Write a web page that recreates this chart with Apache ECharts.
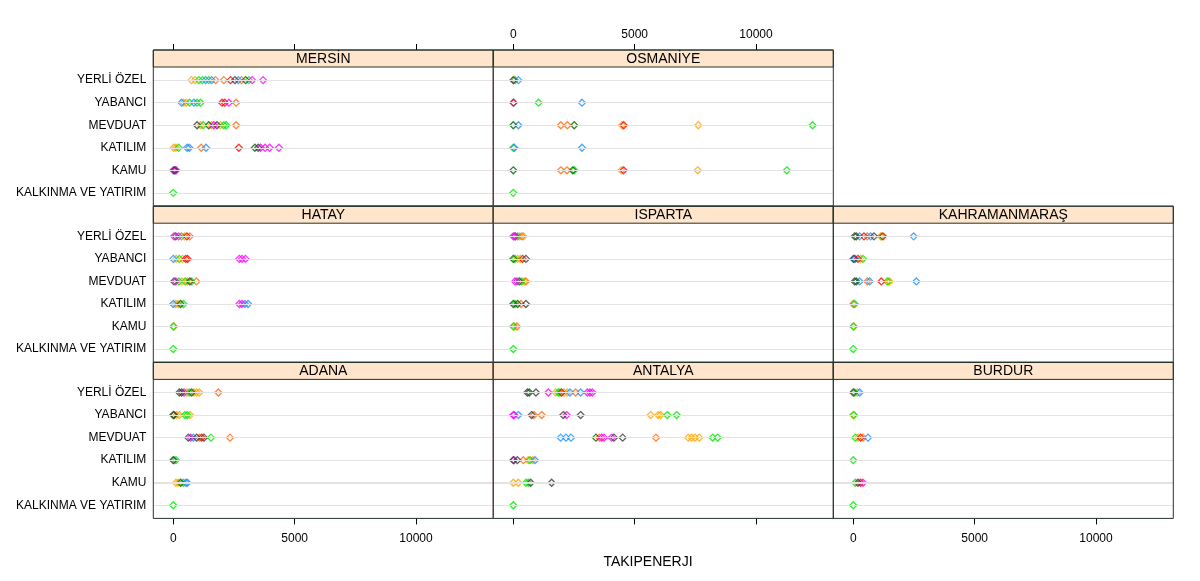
<!DOCTYPE html>
<html><head><meta charset="utf-8">
<script src="https://cdn.jsdelivr.net/npm/echarts@6/dist/echarts.min.js"></script>
<style>html,body{margin:0;padding:0;background:#fff}#c{width:1200px;height:581px}</style>
</head><body><div id="c"></div>
<script>
// categories (bottom to top as in lattice dotplot)
const CATS = ['KALKINMA VE YATIRIM','KAMU','KATILIM','MEVDUAT','YABANCI','YERLİ ÖZEL'];
const X_TICKS = [0, 5000, 10000];
const X_TITLE = 'TAKIPENERJI';
const COLORS = {O:'#FFA500', T:'#FF6A10', G:'#00E600', B:'#1E90FF', R:'#FF0000', D:'#006400', M:'#FF00FF', K:'#3A3A3A'};

// values: [category, [[value, colour-group], ...]]
const MERSIN = [
 ['YERLİ ÖZEL', [[750,'O'],[900,'O'],[1050,'G'],[1200,'G'],[1330,'B'],[1460,'G'],[1580,'B'],[1740,'T'],[2080,'T'],[2360,'R'],[2540,'K'],[2680,'B'],[2810,'T'],[2980,'D'],[3110,'G'],[3250,'M'],[3700,'M']]],
 ['YABANCI', [[340,'B'],[430,'O'],[530,'O'],[670,'G'],[850,'B'],[980,'G'],[1120,'G'],[2010,'R'],[2120,'R'],[2290,'M'],[2590,'T']]],
 ['MEVDUAT', [[980,'K'],[1120,'O'],[1230,'G'],[1460,'D'],[1570,'O'],[1670,'M'],[1800,'K'],[1940,'O'],[2080,'G'],[2180,'G'],[2590,'T']]],
 ['KATILIM', [[20,'O'],[110,'O'],[220,'G'],[570,'B'],[660,'B'],[1150,'T'],[1350,'B'],[2700,'R'],[3360,'D'],[3500,'K'],[3600,'M'],[3780,'M'],[3970,'M'],[4350,'M']]],
 ['KAMU', [[0,'M'],[40,'K'],[80,'D'],[120,'M']]],
 ['KALKINMA VE YATIRIM', [[0,'G']]]
];
const OSMANIYE = [
 ['YERLİ ÖZEL', [[0,'K'],[20,'O'],[70,'G'],[210,'B']]],
 ['YABANCI', [[0,'R'],[20,'B'],[1040,'G'],[2830,'B']]],
 ['MEVDUAT', [[0,'D'],[210,'B'],[1960,'T'],[2230,'T'],[2510,'D'],[4480,'O'],[4550,'R'],[7620,'O'],[12330,'G']]],
 ['KATILIM', [[0,'G'],[40,'B'],[2830,'B']]],
 ['KAMU', [[0,'D'],[1960,'T'],[2210,'T'],[2450,'D'],[2510,'G'],[4450,'O'],[4540,'R'],[7600,'O'],[11270,'G']]],
 ['KALKINMA VE YATIRIM', [[0,'G']]]
];
const HATAY = [
 ['YERLİ ÖZEL', [[30,'M'],[100,'D'],[220,'M'],[340,'G'],[460,'O'],[560,'R'],[680,'T']]],
 ['YABANCI', [[0,'B'],[120,'O'],[250,'G'],[380,'O'],[510,'R'],[590,'R'],[2720,'M'],[2830,'M'],[2970,'M']]],
 ['MEVDUAT', [[30,'D'],[100,'M'],[230,'G'],[360,'O'],[490,'G'],[580,'O'],[680,'K'],[750,'G'],[950,'T']]],
 ['KATILIM', [[0,'B'],[100,'O'],[200,'O'],[300,'D'],[420,'G'],[2720,'M'],[2830,'M'],[2950,'B'],[3080,'B']]],
 ['KAMU', [[0,'G'],[30,'O']]],
 ['KALKINMA VE YATIRIM', [[0,'G']]]
];
const ISPARTA = [
 ['YERLİ ÖZEL', [[0,'M'],[60,'M'],[80,'D'],[175,'G'],[260,'O'],[350,'T'],[420,'O']]],
 ['YABANCI', [[0,'D'],[69,'G'],[178,'O'],[288,'O'],[384,'R'],[521,'K']]],
 ['MEVDUAT', [[69,'M'],[151,'M'],[247,'D'],[343,'G'],[453,'O'],[521,'T']]],
 ['KATILIM', [[0,'D'],[69,'G'],[178,'D'],[316,'T'],[521,'K']]],
 ['KAMU', [[0,'G'],[50,'O'],[150,'T']]],
 ['KALKINMA VE YATIRIM', [[0,'G']]]
];
const KAHRAMANMARAS = [
 ['YERLİ ÖZEL', [[56,'K'],[124,'D'],[261,'B'],[440,'R'],[577,'T'],[714,'B'],[852,'K'],[1127,'O'],[1182,'G'],[1223,'R'],[2487,'B']]],
 ['YABANCI', [[0,'B'],[28,'K'],[83,'B'],[193,'R'],[302,'O'],[398,'G']]],
 ['MEVDUAT', [[56,'K'],[124,'D'],[261,'B'],[577,'T'],[673,'B'],[1154,'R'],[1401,'G'],[1470,'O'],[1497,'O'],[2596,'B']]],
 ['KATILIM', [[0,'T'],[56,'G']]],
 ['KAMU', [[0,'G'],[28,'O']]],
 ['KALKINMA VE YATIRIM', [[0,'G']]]
];
const ADANA = [
 ['YERLİ ÖZEL', [[249,'K'],[345,'K'],[441,'M'],[550,'O'],[660,'G'],[756,'D'],[852,'O'],[962,'O'],[1072,'O'],[1855,'T']]],
 ['YABANCI', [[0,'K'],[29,'D'],[139,'O'],[249,'O'],[482,'G'],[579,'G'],[689,'O']]],
 ['MEVDUAT', [[619,'K'],[715,'M'],[825,'B'],[962,'K'],[1072,'T'],[1168,'R'],[1264,'K'],[1552,'G'],[2335,'T']]],
 ['KATILIM', [[0,'K'],[29,'G'],[111,'G']]],
 ['KAMU', [[111,'O'],[207,'O'],[304,'D'],[414,'G'],[523,'B'],[579,'B']]],
 ['KALKINMA VE YATIRIM', [[0,'G']]]
];
const ANTALYA = [
 ['YERLİ ÖZEL', [[578,'K'],[659,'D'],[934,'K'],[1442,'M'],[1744,'O'],[1854,'G'],[1923,'G'],[1991,'R'],[2088,'O'],[2225,'O'],[2335,'B'],[2568,'T'],[2774,'B'],[3049,'M'],[3159,'M'],[3255,'M']]],
 ['YABANCI', [[0,'M'],[29,'M'],[207,'B'],[756,'K'],[852,'T'],[1168,'T'],[2060,'K'],[2198,'M'],[2774,'K'],[5658,'O'],[5974,'O'],[6070,'O'],[6345,'G'],[6730,'G']]],
 ['MEVDUAT', [[1951,'B'],[2170,'B'],[2376,'B'],[3406,'D'],[3543,'T'],[3640,'M'],[3736,'M'],[4052,'M'],[4148,'K'],[4505,'K'],[5878,'T'],[7210,'O'],[7347,'O'],[7485,'O'],[7663,'O'],[8213,'G'],[8419,'G']]],
 ['KATILIM', [[0,'K'],[29,'M'],[166,'K'],[414,'T'],[619,'O'],[689,'G'],[797,'O'],[893,'B']]],
 ['KAMU', [[0,'O'],[207,'O'],[523,'G'],[619,'G'],[715,'K'],[1580,'K']]],
 ['KALKINMA VE YATIRIM', [[0,'G']]]
];
const BURDUR = [
 ['YERLİ ÖZEL', [[0,'K'],[56,'G'],[166,'O'],[261,'B']]],
 ['YABANCI', [[0,'O'],[20,'G']]],
 ['MEVDUAT', [[83,'G'],[193,'O'],[302,'R'],[398,'T'],[604,'B']]],
 ['KATILIM', [[0,'G']]],
 ['KAMU', [[83,'G'],[193,'K'],[302,'R'],[398,'M']]],
 ['KALKINMA VE YATIRIM', [[0,'G']]]
];

// panel layout: [title, data, row, col, topAxis, bottomAxis]  axis: 0 none, 1 ticks, 2 ticks+labels
const PANELS = [
 ['MERSİN', MERSIN, 0, 0, 1, 0],
 ['OSMANİYE', OSMANIYE, 0, 1, 2, 0],
 ['HATAY', HATAY, 1, 0, 0, 0],
 ['ISPARTA', ISPARTA, 1, 1, 0, 0],
 ['KAHRAMANMARAŞ', KAHRAMANMARAS, 1, 2, 0, 0],
 ['ADANA', ADANA, 2, 0, 0, 2],
 ['ANTALYA', ANTALYA, 2, 1, 0, 1],
 ['BURDUR', BURDUR, 2, 2, 0, 2]
];

const COL_X = [153.3, 493.3, 833.3], PW = 340;
const ROW_Y = [50, 206.2, 362.4], STRIP_H = 17, PLOT_H = 139;
const INSET = PLOT_H * 0.6 / 6.2 - PLOT_H / 12;
const XMIN = -824, XMAX = 13185;
const FONT = '"Liberation Sans", Arial, sans-serif';
const BORDER = '#26342b';

const grids = [], xAxes = [], yAxes = [], series = [], graphics = [];
PANELS.forEach((p, i) => {
  const [title, data, r, c, topAx, botAx] = p;
  const x = COL_X[c], y = ROW_Y[r];
  const plotTop = y + STRIP_H;
  grids.push({left: x, top: plotTop + INSET, width: PW, height: PLOT_H - 2 * INSET});
  const mkX = (pos, mode) => ({
    type: 'value', gridIndex: i, min: XMIN, max: XMAX, position: pos,
    offset: pos === 'top' ? STRIP_H + INSET : INSET,
    splitLine: {show: false}, axisLine: {show: false},
    axisTick: {show: mode > 0, length: 6, lineStyle: {color: '#000', width: 1}, customValues: X_TICKS},
    axisLabel: {show: mode > 1, customValues: X_TICKS, formatter: v => String(v), margin: pos === 'top' ? 9 : 14, fontSize: 12, color: '#000', fontFamily: FONT}
  });
  xAxes.push(topAx ? mkX('top', topAx) : mkX('bottom', botAx));
  yAxes.push({
    type: 'category', gridIndex: i, data: CATS, boundaryGap: true,
    axisLine: {show: false}, axisTick: {show: false}, splitLine: {show: false},
    axisLabel: {show: c === 0, margin: 7, fontSize: 12, color: '#000', fontFamily: FONT, padding: [3, 0, 0, 0]}
  });
  // reference lines at each category
  series.push({
    type: 'scatter', xAxisIndex: i, yAxisIndex: i, data: [], silent: true, z: 1,
    markLine: {silent: true, symbol: ['none', 'none'], label: {show: false}, animation: false,
      data: CATS.map(cat => ({yAxis: cat, lineStyle: {color: '#e3e3e3', width: (r === 2 && cat === 'KAMU') ? 2 : 1, type: 'solid'}}))}
  });
  // points grouped by colour
  Object.keys(COLORS).forEach(code => {
    const pts = [];
    data.forEach(([cat, vals]) => vals.forEach(([v, g]) => { if (g === code) pts.push([v, cat]); }));
    if (!pts.length) return;
    series.push({
      type: 'scatter', xAxisIndex: i, yAxisIndex: i, data: pts, symbol: 'diamond', symbolSize: 7, z: 3,
      silent: true, itemStyle: {color: 'rgba(255,255,255,0)', borderColor: COLORS[code], borderWidth: 1.3}
    });
  });
  // strip
  graphics.push({type: 'rect', z: -5, shape: {x: x, y: y, width: PW, height: STRIP_H}, style: {fill: '#FFE5CC', stroke: BORDER, lineWidth: 1}});
  graphics.push({type: 'text', z: 10, x: x + PW / 2, y: y + STRIP_H / 2 + 0.5, style: {text: title, fill: '#000', font: '14px ' + FONT, textAlign: 'center', textVerticalAlign: 'middle'}});
  graphics.push({type: 'rect', z: 10, shape: {x: x, y: y, width: PW, height: STRIP_H + PLOT_H}, style: {fill: 'none', stroke: BORDER, lineWidth: 1}});
});
graphics.push({type: 'line', z: 11, shape: {x1: 493.3, y1: 67, x2: 493.3, y2: 518.4}, style: {stroke: '#7d3535', lineWidth: 1}});
graphics.push({type: 'text', x: 648, y: 562, style: {text: X_TITLE, fill: '#000', font: '14px ' + FONT, textAlign: 'center', textVerticalAlign: 'middle'}});

const chart = echarts.init(document.getElementById('c'), null, {renderer: 'canvas'});
chart.setOption({
  animation: false, backgroundColor: '#fff',
  grid: grids, xAxis: xAxes, yAxis: yAxes, series: series, graphic: graphics
});
</script></body></html>
